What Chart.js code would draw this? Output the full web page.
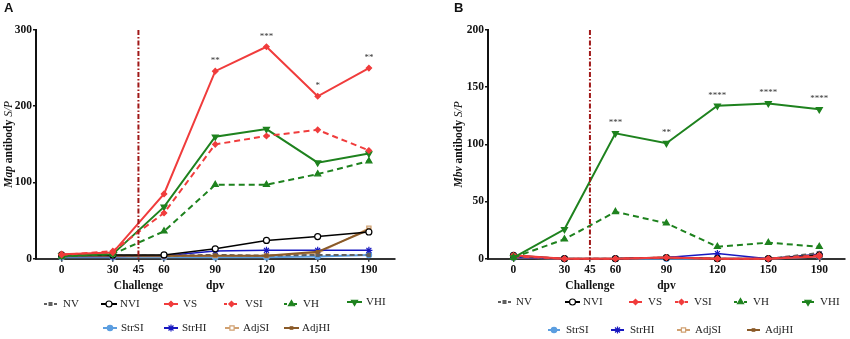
<!DOCTYPE html>
<html>
<head>
<meta charset="utf-8">
<script src="https://cdn.jsdelivr.net/npm/chart.js@4/dist/chart.umd.min.js"></script>
<style>
  html, body { margin: 0; padding: 0; background: #fff; }
  #wrap { position: relative; width: 850px; height: 339px; overflow: hidden; }
  .panel { position: absolute; top: 0; width: 425px; height: 339px; }
</style>
</head>
<body>
<div id="wrap">
  <div class="panel" style="left:0"><canvas id="chartA"></canvas></div>
  <div class="panel" style="left:425px"><canvas id="chartB"></canvas></div>
</div>
<script>
// Sampling days (days post vaccination) and axis ticks
const sampleDays = [0, 30, 60, 90, 120, 150, 190];
const tickDays = [0, 30, 45, 60, 90, 120, 150, 190];
const challengeDay = 45;

const groups = ['NV', 'NVI', 'VS', 'VSI', 'VH', 'VHI', 'StrSI', 'StrHI', 'AdjSI', 'AdjHI'];

// Panel A: Map antibody S/P
const nvA    = [5, 4, 4, 5, 4, 5, 5];
const nviA   = [5, 5, 5, 13, 24, 29, 35];
const vsA    = [6, 8, 85, 246, 278, 213, 250];
const vsiA   = [5, 10, 60, 150, 161, 169, 142];
const vhA    = [3, 6, 36, 97, 97, 111, 128];
const vhiA   = [4, 6, 68, 160, 170, 126, 138];
const strsiA = [2, 2, 2, 2, 2, 3, 5];
const strhiA = [3, 3, 4, 10, 11, 11, 11];
const adjsiA = [3, 3, 3, 4, 4, 7, 40];
const adjhiA = [4, 4, 4, 4, 4, 9, 38];
const starsA = ['', '', '', '**', '***', '*', '**'];

// Panel B: Mbv antibody S/P
const nvB    = [2, 0, 0, 1, 0, 0, 5];
const nviB   = [3, 0, 0, 1, 0, 0, 3];
const vsB    = [3, 0, 0, 1, 0, 0, 2];
const vsiB   = [2, 0, 0, 1, 0, 0, 3];
const vhB    = [1, 17, 41, 31, 10.5, 14, 10.5];
const vhiB   = [1, 25.7, 109.6, 101, 133.7, 135.8, 130.6];
const strsiB = [1, 0, 0, 0, 0, 0, 2];
const strhiB = [1, 0, 0, 1, 4.5, 0, 4];
const adjsiB = [1, 0, 0, 1, 0, 0, 4];
const adjhiB = [1, 0, 0, 1, 0, 0, 3];
const starsB = ['', '', '***', '**', '****', '****', '****'];

// Days are placed at evenly spaced sampling slots; in-between days are interpolated
function dayToSlot(d) {
  for (let i = 0; i < sampleDays.length - 1; i++) {
    if (d >= sampleDays[i] && d <= sampleDays[i + 1]) {
      return i + (d - sampleDays[i]) / (sampleDays[i + 1] - sampleDays[i]);
    }
  }
  return sampleDays.length - 1;
}

const RED = '#f03c3c', GREEN = '#1e821e', BLUE = '#1818c0', LBLUE = '#5c9ee0',
      TAN = '#d0a070', BROWN = '#8a5a28', GREY = '#606060';

const styles = {
  NV:    { color: GREY,  dash: [5, 3], width: 2,   point: 'rect',     radius: 2,   fill: GREY },
  NVI:   { color: '#000', dash: [],    width: 1.5, point: 'circle',   radius: 3,   fill: '#fff' },
  VS:    { color: RED,   dash: [],     width: 2,   point: 'rectRot',  radius: 2.7, fill: RED },
  VSI:   { color: RED,   dash: [6, 4], width: 2,   point: 'rectRot',  radius: 2.7, fill: RED },
  VH:    { color: GREEN, dash: [6, 4], width: 2,   point: 'triangle', radius: 3.5, fill: GREEN },
  VHI:   { color: GREEN, dash: [],     width: 2,   point: 'triangle', radius: 3.5, fill: GREEN, rotation: 180 },
  StrSI: { color: LBLUE, dash: [],     width: 2,   point: 'circle',   radius: 2.7, fill: LBLUE },
  StrHI: { color: BLUE,  dash: [],     width: 1.5, point: 'star',     radius: 3.5, fill: BLUE },
  AdjSI: { color: TAN,   dash: [],     width: 1.5, point: 'rect',     radius: 3,   fill: '#fff' },
  AdjHI: { color: BROWN, dash: [],     width: 2,   point: 'rect',     radius: 1.8, fill: BROWN }
};

const SERIF = '"Liberation Serif", "Times New Roman", serif';

function drawMarker(ctx, st, x, y) {
  const opts = { pointStyle: st.point, radius: st.radius, rotation: st.rotation || 0, borderWidth: 1.2 };
  ctx.fillStyle = st.fill;
  ctx.strokeStyle = st.color;
  ctx.lineWidth = 1.2;
  ctx.setLineDash([]);
  if (Chart.helpers && Chart.helpers.drawPoint) {
    Chart.helpers.drawPoint(ctx, opts, x, y);
  } else {
    ctx.beginPath(); ctx.arc(x, y, st.radius, 0, Math.PI * 2); ctx.fill(); ctx.stroke();
  }
}

const decorPlugin = {
  id: 'panelDecor',
  afterDatasetsDraw(chart, args, o) {
    const ctx = chart.ctx, x = chart.scales.x, area = chart.chartArea;
    // challenge marker line
    const cx = x.getPixelForValue(dayToSlot(challengeDay));
    ctx.save();
    ctx.strokeStyle = '#a01818';
    ctx.lineWidth = 2;
    ctx.setLineDash([5, 2, 1.5, 2]);
    ctx.beginPath(); ctx.moveTo(cx, area.top); ctx.lineTo(cx, area.bottom); ctx.stroke();
    ctx.restore();

    // significance stars above the reference series
    const meta = chart.getDatasetMeta(o.starSeries);
    ctx.save();
    ctx.fillStyle = '#333';
    ctx.font = '9px ' + SERIF;
    ctx.textAlign = 'center';
    ctx.textBaseline = 'alphabetic';
    o.stars.forEach((s, i) => {
      if (!s) return;
      const pt = meta.data[i];
      ctx.fillText(s, pt.x, pt.y - 8);
    });
    ctx.restore();
  },
  afterDraw(chart, args, o) {
    const ctx = chart.ctx, x = chart.scales.x, area = chart.chartArea;
    ctx.save();
    // panel letter
    ctx.fillStyle = '#111';
    ctx.font = 'bold 13px "Liberation Sans", Arial, sans-serif';
    ctx.textAlign = 'left';
    ctx.textBaseline = 'alphabetic';
    ctx.fillText(o.letter, o.letterX, 12);

    // y title with mixed italic parts
    const parts = o.yTitle;
    let total = 0;
    parts.forEach(p => { ctx.font = p.font; total += ctx.measureText(p.text).width; });
    ctx.translate(o.yTitleX, (area.top + area.bottom) / 2);
    ctx.rotate(-Math.PI / 2);
    ctx.textBaseline = 'middle';
    let px = -total / 2;
    parts.forEach(p => { ctx.font = p.font; ctx.fillText(p.text, px, 0); px += ctx.measureText(p.text).width; });
    ctx.setTransform(1, 0, 0, 1, 0, 0);
    ctx.restore();

    // x titles
    ctx.save();
    ctx.fillStyle = '#111';
    ctx.font = 'bold 11.5px ' + SERIF;
    ctx.textAlign = 'center';
    ctx.textBaseline = 'middle';
    ctx.fillText('Challenge', x.getPixelForValue(dayToSlot(challengeDay)), 286);
    ctx.fillText('dpv', x.getPixelForValue(dayToSlot(90)), 286);
    ctx.restore();

    // legend
    ctx.save();
    o.legend.forEach(item => {
      const st = styles[item.name];
      ctx.strokeStyle = st.color;
      ctx.lineWidth = 2;
      ctx.setLineDash(st.dash.length ? [3, 2] : []);
      ctx.beginPath(); ctx.moveTo(item.x1, item.y); ctx.lineTo(item.x2, item.y); ctx.stroke();
      drawMarker(ctx, st, (item.x1 + item.x2) / 2, item.y);
      ctx.fillStyle = '#222';
      ctx.font = '11px ' + SERIF;
      ctx.textAlign = 'left';
      ctx.textBaseline = 'middle';
      ctx.fillText(item.name, item.tx, item.y);
    });
    ctx.restore();
  }
};

function legendRows(row1, row2, y1, y2, yLast) {
  const out = [];
  groups.slice(0, 6).forEach((g, i) => out.push({ name: g, x1: row1[i][0], x2: row1[i][1], tx: row1[i][2], y: i === 5 ? yLast : y1 }));
  groups.slice(6).forEach((g, i) => out.push({ name: g, x1: row2[i][0], x2: row2[i][1], tx: row2[i][2], y: y2 }));
  return out;
}

function makePanel(id, values, cfg) {
  const tickSlots = tickDays.map(dayToSlot);
  const datasets = groups.map((g, i) => {
    const st = styles[g];
    return {
      label: g,
      data: values[i].map((v, k) => ({ x: k, y: v })),
      borderColor: st.color,
      backgroundColor: st.fill,
      borderWidth: st.width,
      borderDash: st.dash,
      pointStyle: st.point,
      pointRadius: st.radius,
      pointRotation: st.rotation || 0,
      pointBackgroundColor: st.fill,
      pointBorderColor: st.color,
      pointBorderWidth: 1.2,
      tension: 0,
      clip: false,
      order: cfg.order[i]
    };
  });
  return new Chart(document.getElementById(id), {
    type: 'line',
    data: { datasets },
    plugins: [decorPlugin],
    options: {
      responsive: true,
      maintainAspectRatio: false,
      animation: false,
      events: [],
      layout: { padding: { left: 0, right: cfg.padRight, top: 30, bottom: 0 } },
      scales: {
        x: {
          type: 'linear',
          min: -0.5,
          max: sampleDays.length - 0.5,
          afterBuildTicks: s => { s.ticks = tickSlots.map(v => ({ value: v })); },
          afterFit: s => { s.height = 80.3; },
          border: { display: true, color: '#333', width: 2 },
          grid: { display: true, drawOnChartArea: false, drawTicks: true, tickLength: 3, color: '#333', lineWidth: 1.5 },
          ticks: {
            autoSkip: false, maxRotation: 0, padding: 1, color: '#111',
            font: { family: SERIF, size: 11.5, weight: 'bold' },
            callback: (v, i) => String(tickDays[i])
          }
        },
        y: {
          min: 0,
          max: cfg.yMax,
          afterFit: s => { s.width = cfg.yWidth; },
          border: { display: true, color: '#111', width: 2 },
          grid: { display: true, drawOnChartArea: false, drawTicks: true, tickLength: 3, color: '#111', lineWidth: 1.5 },
          ticks: {
            stepSize: cfg.yStep, padding: 1, color: '#111',
            font: { family: SERIF, size: 11.5, weight: 'bold' }
          }
        }
      },
      plugins: {
        legend: { display: false },
        tooltip: { enabled: false },
        title: { display: false },
        panelDecor: cfg.decor
      }
    }
  });
}

const boldSerif = 'bold 11.5px ' + SERIF;
const itBoldSerif = 'italic bold 11.5px ' + SERIF;
const itSerif = 'italic 11.5px ' + SERIF;

makePanel('chartA',
  [nvA, nviA, vsA, vsiA, vhA, vhiA, strsiA, strhiA, adjsiA, adjhiA],
  {
    yMax: 300, yStep: 100, yWidth: 36, padRight: 30.5,
    order: [5, 4, 1, 2, 3, 3, 6, 5, 5, 4],
    decor: {
      letter: 'A', letterX: 4, yTitleX: 9,
      yTitle: [{ text: 'Map', font: itBoldSerif }, { text: ' antibody ', font: boldSerif }, { text: 'S/P', font: itSerif }],
      starSeries: 2, stars: starsA,
      legend: legendRows(
        [[44, 57, 63], [101, 117, 120], [164, 178, 183], [224, 239, 245], [284, 299, 303], [347, 362, 366]],
        [[103, 117, 121], [164, 178, 182], [225, 239, 243], [284, 299, 302]],
        304, 328, 302)
    }
  });

makePanel('chartB',
  [nvB, nviB, vsB, vsiB, vhB, vhiB, strsiB, strhiB, adjsiB, adjhiB],
  {
    yMax: 200, yStep: 50, yWidth: 63, padRight: 3.5,
    order: [4, 3, 2, 2, 1, 1, 6, 5, 5, 5],
    decor: {
      letter: 'B', letterX: 29, yTitleX: 34,
      yTitle: [{ text: 'Mbv', font: itBoldSerif }, { text: ' antibody ', font: boldSerif }, { text: 'S/P', font: itSerif }],
      starSeries: 5, stars: starsB,
      legend: legendRows(
        [[73, 86, 91], [140, 155, 158], [204, 217, 223], [250, 263, 269], [309, 322, 328], [377, 389, 395]],
        [[123, 135, 141], [186, 199, 205], [252, 265, 270], [322, 335, 340]],
        302, 330, 302)
    }
  });
</script>
</body>
</html>
